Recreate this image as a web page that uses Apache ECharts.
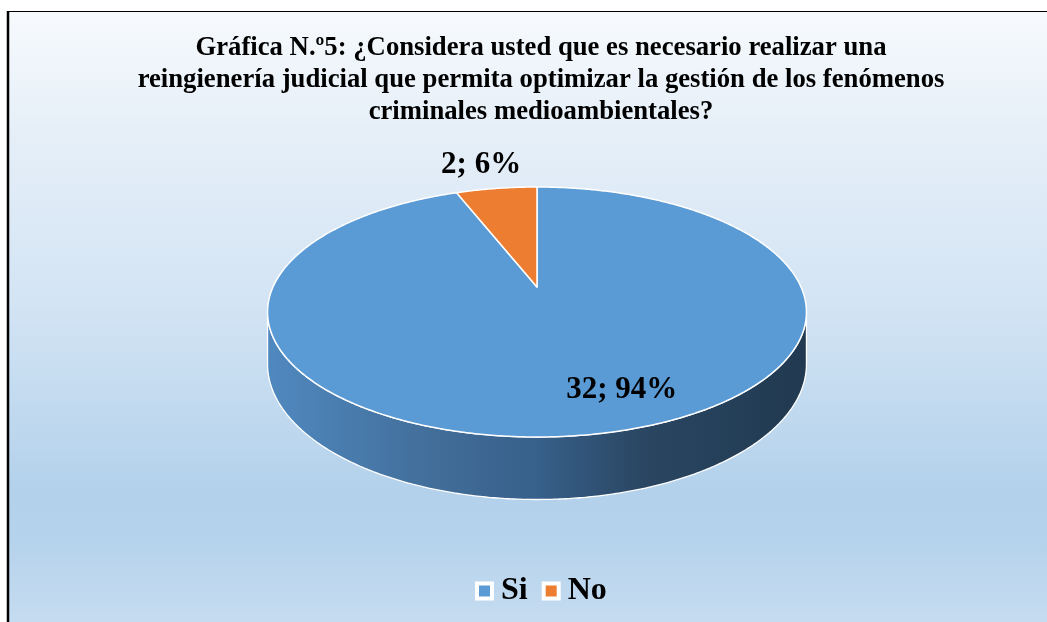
<!DOCTYPE html>
<html><head><meta charset="utf-8">
<script src="https://cdn.jsdelivr.net/npm/echarts@6/dist/echarts.min.js"></script>
<style>html,body{margin:0;padding:0;background:#fff;overflow:hidden}#c{width:1047px;height:622px}</style>
</head><body><div id="c"></div><script>
// ---- data ----
const titleLines = [
  'Gráfica N.º5: ¿Considera usted que es necesario realizar una',
  'reingienería judicial que permita optimizar la gestión de los fenómenos',
  'criminales medioambientales?'
];
const categories = ['Si', 'No'];
const values = [32, 2];

// ---- style ----
const sliceColors = ['#5b9bd5', '#ed7d31'];
const FONT = '"Liberation Serif", "Times New Roman", serif';
const CX = 537, CY = 287, RX = 264, RY = 120, K = 0.2, DEPTH = 50;
// label placement per slice: radial fraction and angular offset from mid angle
const labelPlace = [{ r: 0.78, off: -10 }, { r: 1.30, off: -1.2 }];

const TH_R = Math.acos(-K) * 180 / Math.PI;
const TH_L = 360 - TH_R;

function proj(r, deg, h) {
  const t = deg * Math.PI / 180;
  const u = r * Math.sin(t), v = -r * Math.cos(t);
  const s = 1 / (1 - K * v);
  return [CX + RX * u * s, CY + (RY * v + h) * s];
}
function arc(r, a0, a1, h) {
  const n = Math.max(2, Math.ceil(Math.abs(a1 - a0) / 0.5));
  const pts = [];
  for (let j = 0; j <= n; j++) pts.push(proj(r, a0 + (a1 - a0) * j / n, h));
  return pts;
}
const wallFill = {
  type: 'linear', x: CX - RX, y: 0, x2: CX + RX, y2: 0, global: true,
  colorStops: [
    { offset: 0, color: '#4f88be' },
    { offset: 0.3, color: '#426e9a' },
    { offset: 0.5, color: '#37608a' },
    { offset: 0.7, color: '#2a4662' },
    { offset: 1, color: '#213a51' }
  ]
};

function makeRender(i) {
  return function (params, api) {
    const total = values.reduce((a, b) => a + b, 0);
    const start = values.slice(0, i).reduce((a, b) => a + b, 0) / total * 360;
    const val = api.value(0);
    const end = start + val / total * 360;
    const children = [];
    const w0 = Math.max(start, TH_R), w1 = Math.min(end, TH_L);
    if (w1 > w0) {
      const pts = arc(1, w0, w1, 0).concat(arc(1, w1, w0, DEPTH));
      children.push({ type: 'polygon', z2: 0, shape: { points: pts },
        style: { fill: wallFill, stroke: '#ffffff', lineWidth: 1.3, lineJoin: 'round' } });
    }
    const top = [proj(0, 0, 0)].concat(arc(1, start, end, 0));
    children.push({ type: 'polygon', z2: 5, shape: { points: top },
      style: { fill: sliceColors[i], stroke: '#ffffff', lineWidth: 1.5, lineJoin: 'round' } });
    const lp = labelPlace[i];
    const p = proj(lp.r, (start + end) / 2 + lp.off, 0);
    const pct = Math.round(val / total * 100);
    children.push({ type: 'text', z2: 10, x: p[0], y: p[1],
      style: { text: val + '; ' + pct + '%', fontFamily: FONT, fontWeight: 'bold', fontSize: 31,
        fill: '#000', align: 'center', verticalAlign: 'middle' } });
    return { type: 'group', children };
  };
}

const chart = echarts.init(document.getElementById('c'));
chart.setOption({
  animation: false,
  title: {
    text: titleLines.join('\n'),
    left: 541, top: 32, padding: 0, textAlign: 'center',
    textStyle: { fontFamily: FONT, fontWeight: 'bold', fontSize: 26.7, lineHeight: 32, color: '#000' }
  },
  legend: {
    data: categories,
    left: 470, top: 570,
    icon: 'rect', itemWidth: 15, itemHeight: 15, itemGap: 14,
    itemStyle: { borderColor: '#ffffff', borderWidth: 4 },
    textStyle: { fontFamily: FONT, fontWeight: 'bold', fontSize: 32, color: '#000', padding: [0, 0, 0, 4] }
  },
  graphic: [
    { type: 'rect', z: -10, shape: { x: 8, y: 11, width: 1100, height: 650 },
      style: { fill: { type: 'linear', x: 0, y: 0, x2: 0, y2: 1, colorStops: [
        { offset: 0, color: '#f7fafd' },
        { offset: 0.18, color: '#e6eff8' },
        { offset: 0.45, color: '#d3e4f4' },
        { offset: 0.74, color: '#b3d1eb' },
        { offset: 0.82, color: '#b6d3ec' },
        { offset: 1, color: '#cde0f2' }
      ] } } },
    { type: 'line', z: -9, shape: { x1: 8, y1: 11, x2: 8, y2: 622 }, style: { stroke: '#000', lineWidth: 2.5 } },
    { type: 'line', z: -9, shape: { x1: 7, y1: 11.5, x2: 1047, y2: 11.5 }, style: { stroke: '#000', lineWidth: 1.2 } }
  ],
  series: categories.map((name, i) => ({
    type: 'custom', name, coordinateSystem: 'none',
    itemStyle: { color: sliceColors[i] },
    data: [[values[i]]],
    renderItem: makeRender(i)
  }))
});
</script></body></html>
